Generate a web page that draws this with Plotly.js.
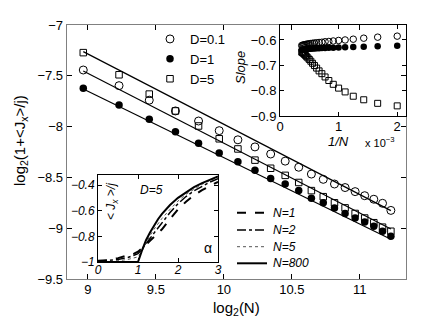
<!DOCTYPE html>
<html><head><meta charset="utf-8">
<script src="https://cdn.plot.ly/plotly-3.0.1.min.js"></script>
<style>html,body{margin:0;padding:0;background:#fff}#chart{width:436px;height:328px}</style>
</head><body><div id="chart"></div>
<script>
// ---- main panel data ----
const sizesN = [500,600,700,800,900,1000,1100,1200,1300,1400,1500,1600,1700,1800,1900,2000,2100,2200,2300,2400];
const logD01 = [-7.443,-7.597,-7.74,-7.846,-7.945,-8.04,-8.13,-8.20,-8.27,-8.34,-8.40,-8.467,-8.519,-8.565,-8.60,-8.64,-8.68,-8.715,-8.755,-8.825];
const logD1  = [-7.623,-7.787,-7.928,-8.05,-8.164,-8.26,-8.345,-8.43,-8.51,-8.565,-8.63,-8.706,-8.75,-8.80,-8.855,-8.90,-8.94,-8.98,-9.03,-9.08];
const logD5  = [-7.272,-7.49,-7.68,-7.846,-7.994,-8.12,-8.22,-8.33,-8.41,-8.48,-8.55,-8.63,-8.69,-8.75,-8.80,-8.855,-8.90,-8.946,-8.99,-9.03];
const fitN = [500, 2400];
const fitA = [-7.262, -8.827];
const fitB = [-7.453, -9.008];
const fitC = [-7.63, -9.109];
// ---- slope inset ----
const slopeN = [500,600,700,800,900,1000,1100,1200,1300,1400,1500,1600,1700,1800,1900,2000,2100,2200,2300,2400,2500,2600,2700];
const slopeD01 = [-0.585,-0.589,-0.593,-0.597,-0.600,-0.602,-0.604,-0.606,-0.607,-0.609,-0.610,-0.611,-0.612,-0.613,-0.614,-0.615,-0.616,-0.617,-0.618,-0.619,-0.620,-0.621,-0.622];
const slopeD1  = [-0.623,-0.625,-0.627,-0.628,-0.629,-0.630,-0.631,-0.631,-0.632,-0.632,-0.633,-0.633,-0.634,-0.634,-0.635,-0.635,-0.636,-0.636,-0.637,-0.637,-0.638,-0.639,-0.640];
const slopeD5  = [-0.860,-0.850,-0.836,-0.822,-0.805,-0.790,-0.775,-0.760,-0.746,-0.733,-0.722,-0.711,-0.701,-0.692,-0.684,-0.677,-0.671,-0.666,-0.661,-0.657,-0.653,-0.650,-0.648];
// ---- alpha inset (D=5) ----
const alpha = [0,0.25,0.5,0.75,0.9,1.0,1.1,1.2,1.3,1.4,1.5,1.6,1.8,2.0,2.2,2.4,2.6,2.8,3.0];
const jN1   = [-0.99,-0.985,-0.97,-0.95,-0.935,-0.92,-0.895,-0.865,-0.835,-0.805,-0.775,-0.745,-0.665,-0.59,-0.53,-0.48,-0.44,-0.405,-0.375];
const jN2   = [-0.995,-0.99,-0.98,-0.965,-0.95,-0.935,-0.90,-0.855,-0.815,-0.775,-0.735,-0.695,-0.615,-0.545,-0.49,-0.445,-0.408,-0.377,-0.35];
const jN5   = [-1.0,-0.997,-0.99,-0.98,-0.97,-0.96,-0.915,-0.85,-0.795,-0.745,-0.70,-0.66,-0.59,-0.525,-0.472,-0.43,-0.395,-0.365,-0.34];
const jN800 = [-1,-1,-1,-1,-1,-1,-0.91,-0.83,-0.77,-0.715,-0.667,-0.625,-0.556,-0.5,-0.455,-0.417,-0.385,-0.357,-0.333];
const curveNames = ['N=1','N=2','N=5','N=800'];

const lx = sizesN.map(Math.log2);
const fx = fitN.map(Math.log2);
const inv = slopeN.map(n => 1000/n);
const FONT = 'Liberation Sans, Arial, sans-serif';
const curveStyles = [
  {color:'#000', width:2, dash:'dash'},
  {color:'#000', width:1.5, dash:'dashdot'},
  {color:'#555', width:1, dash:'dot'},
  {color:'#000', width:2, dash:'solid'}
];

const traces = [
  {x: fx, y: fitA, mode:'lines', line:{color:'#000', width:1.2}, showlegend:false},
  {x: fx, y: fitB, mode:'lines', line:{color:'#000', width:1.2}, showlegend:false},
  {x: fx, y: fitC, mode:'lines', line:{color:'#000', width:1.2}, showlegend:false},
  {x: lx, y: logD01, name:'D=0.1', mode:'markers', marker:{symbol:'circle-open', size:8, color:'#000', line:{width:1}}},
  {x: lx, y: logD1, name:'D=1', mode:'markers', marker:{symbol:'circle', size:7.5, color:'#000'}},
  {x: lx, y: logD5, name:'D=5', mode:'markers', marker:{symbol:'square-open', size:6.5, color:'#000', line:{width:1}}},
  {x: inv, y: slopeD01, xaxis:'x2', yaxis:'y2', mode:'markers', marker:{symbol:'circle-open', size:6.5, color:'#000', line:{width:1}}, showlegend:false},
  {x: inv, y: slopeD1, xaxis:'x2', yaxis:'y2', mode:'markers', marker:{symbol:'circle', size:6.5, color:'#000'}, showlegend:false},
  {x: inv, y: slopeD5, xaxis:'x2', yaxis:'y2', mode:'markers', marker:{symbol:'square-open', size:6, color:'#000', line:{width:1}}, showlegend:false}
];
[jN1, jN2, jN5, jN800].forEach((ys, i) => traces.push({x: alpha, y: ys, xaxis:'x3', yaxis:'y3', name: curveNames[i], mode:'lines', line: curveStyles[i], showlegend:false}));

const W = 436, H = 328;
const px = v => v / W, py = v => 1 - v / H;
const ax = (extra) => Object.assign({showline:true, mirror:'ticks', ticks:'inside', ticklen:4, tickcolor:'#000', linecolor:'#000', linewidth:1, showgrid:false, zeroline:false, tickfont:{family:FONT, size:12, color:'#000'}}, extra);
const ann = (text, x, y, size, extra) => Object.assign({text, xref:'paper', yref:'paper', x:px(x), y:py(y), xanchor:'center', yanchor:'middle', showarrow:false, font:{family:FONT, size, color:'#000'}}, extra || {});

// manual legend for the alpha inset
const legShapes = [], legAnn = [];
const legRows = [212.7, 230, 246.7, 263.3];
curveNames.forEach((nm, i) => {
  const st = curveStyles[i];
  legShapes.push({type:'line', xref:'paper', yref:'paper', x0:px(237), x1:px(267), y0:py(legRows[i]), y1:py(legRows[i]), line:{color:st.color, width:st.width, dash:st.dash}});
  legAnn.push(ann(nm, 271, legRows[i], 12, {xanchor:'left', font:{family:FONT, size:12, style:'italic', color:'#000'}}));
});

const layout = {
  width: W, height: H, margin:{l:0, r:0, t:0, b:0},
  paper_bgcolor:'#fff', plot_bgcolor:'rgba(0,0,0,0)',
  font:{family:FONT, color:'#000'},
  showlegend: true,
  xaxis: ax({domain:[px(67), px(406)], range:[8.846, 11.34], tickvals:[9,9.5,10,10.5,11], ticktext:['9','9.5','10','10.5','11'], linecolor:'#808080', linewidth:1.3, tickfont:{family:FONT, size:13}, ticklen:5, ticklabelstandoff:-2, anchor:'y'}),
  yaxis: ax({domain:[py(279), py(25)], range:[-9.5, -7], tickvals:[-9.5,-9,-8.5,-8,-7.5,-7], linecolor:'#808080', linewidth:1.3, tickfont:{family:FONT, size:13}, ticklen:5, anchor:'x'}),
  xaxis2: ax({domain:[px(280), px(406)], range:[0, 2.15], tickvals:[0,1,2], anchor:'y2', tickfont:{family:FONT, size:13}, ticklabelstandoff:-2}),
  yaxis2: ax({domain:[py(116), py(25)], range:[-0.9, -0.541], tickvals:[-0.9,-0.8,-0.7,-0.6], ticktext:['\u22120.9','\u22120.8','\u22120.7','\u22120.6'], anchor:'x2', tickfont:{family:FONT, size:13}}),
  xaxis3: ax({domain:[px(98), px(218)], range:[0, 3], tickvals:[0,1,2,3], anchor:'y3', tickfont:{family:FONT, size:12, style:'italic'}, ticklabelstandoff:-3}),
  yaxis3: ax({domain:[py(262), py(175)], range:[-1, -0.322], tickvals:[-1,-0.8,-0.6,-0.4], ticktext:['\u22121','\u22120.8','\u22120.6','\u22120.4'], anchor:'x3', tickfont:{family:FONT, size:12, style:'italic'}}),
  legend: {x: px(150), y: py(24), xanchor:'left', yanchor:'top', bgcolor:'rgba(0,0,0,0)', font:{family:FONT, size:13}, tracegroupgap:0, itemwidth:30},
  shapes: [
    {type:'rect', xref:'paper', yref:'paper', x0:px(280), x1:px(406), y0:py(116), y1:py(25), fillcolor:'#fff', line:{width:0}, layer:'below'},
    {type:'rect', xref:'paper', yref:'paper', x0:px(98), x1:px(218), y0:py(262), y1:py(175), fillcolor:'#fff', line:{width:0}, layer:'below'}
  ].concat(legShapes),
  annotations: [
    ann('log<sub>2</sub>(1+&lt;J<sub>x</sub>&gt;/j)', 20, 141, 15, {textangle:-90}),
    ann('log<sub>2</sub>(N)', 236, 308, 15),
    ann('Slope', 241, 67, 13, {textangle:-90, font:{family:FONT, size:13, style:'italic', color:'#000'}}),
    ann('1/N', 338, 141, 13, {font:{family:FONT, size:13, style:'italic', color:'#000'}}),
    ann('x 10<sup>\u22123</sup>', 380, 142, 11),
    ann('&lt; J<sub>x</sub> &gt;/j', 112, 202, 12, {textangle:-90, font:{family:FONT, size:12, style:'italic', color:'#000'}}),
    ann('D=5', 151, 190, 12, {font:{family:FONT, size:12, style:'italic', color:'#000'}}),
    ann('\u03b1', 208, 248, 14)
  ].concat(legAnn)
};

Plotly.newPlot('chart', traces, layout, {displayModeBar:false, staticPlot:true});
</script></body></html>
